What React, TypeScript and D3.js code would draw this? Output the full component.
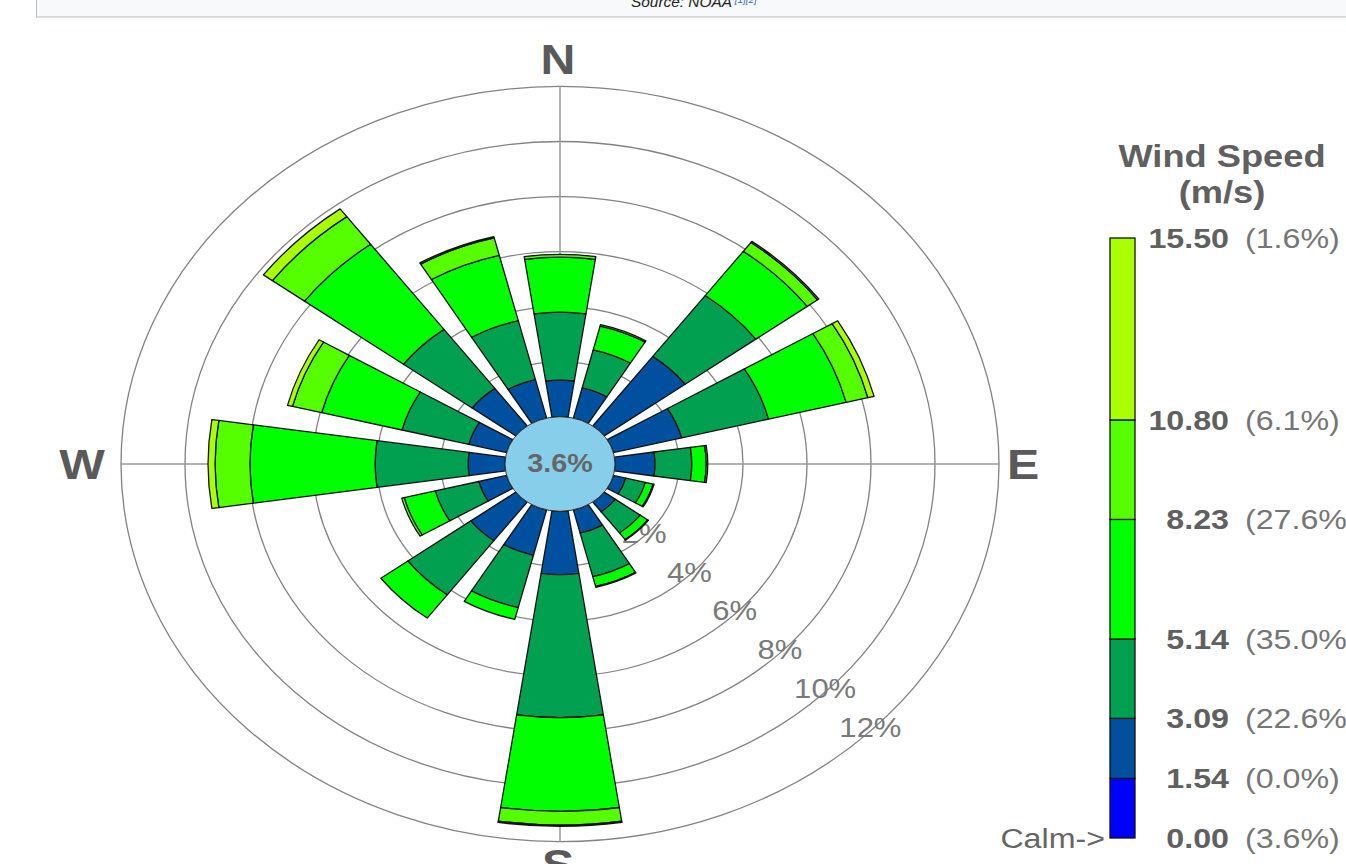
import React from "react";
import * as d3 from "d3";

// wind rose, NOAA data, values in % of time
const directions = ["N", "NNE", "NE", "ENE", "E", "ESE", "SE", "SSE", "S", "SSW", "SW", "WSW", "W", "WNW", "NW", "NNW"];

// frequency per speed bin and direction (%)
const bin154 = [1.33, 1.13, 3.15, 2.2, 1.25, 0.4, 0.44, 0.87, 2.3, 1.7, 1.75, 0.9, 1.15, 1.22, 1.7, 1.44];
const bin309 = [2.47, 1.43, 2.75, 2.8, 1.15, 0.63, 0.96, 1.63, 5.2, 1.96, 2.45, 1.4, 2.91, 2.15, 2.67, 2.21];
const bin514 = [2.0, 0.89, 2.0, 2.5, 0.45, 0.25, 0.3, 0.37, 3.4, 0.44, 1.05, 1.0, 3.91, 2.59, 3.85, 2.45];
const bin823 = [0.1, 0.05, 0.4, 0.7, 0.05, 0.03, 0.02, 0.03, 0.5, 0, 0, 0.08, 1.09, 0.94, 1.25, 0.65];
const bin1080 = [0, 0, 0.05, 0.2, 0, 0, 0, 0, 0.05, 0, 0, 0, 0.22, 0.16, 0.35, 0.05];
const bins = [bin154, bin309, bin514, bin823, bin1080];

const speedBreaks = [0, 1.54, 3.09, 5.14, 8.23, 10.8, 15.5];
const speedLabels = ["0.00", "1.54", "3.09", "5.14", "8.23", "10.80", "15.50"];
const speedShares = ["(3.6%)", "(0.0%)", "(22.6%)", "(35.0%)", "(27.6%)", "(6.1%)", "(1.6%)"];
const speedColors = ["#0000ff", "#0050a0", "#00a050", "#00ff00", "#55ff00", "#aaff00"];
const calmLabel = "3.6%";

const ringTicks = [2, 4, 6, 8, 10, 12];

const CX = 560;
const CY = 464;
const YS = 0.86; // the rose is squashed vertically
const TXT = 1.15; // text is stretched horizontally

function SText({ x, y, sx = TXT, children, ...rest }: any) {
  return (
    <text transform={`translate(${x},${y}) scale(${sx},1)`} {...rest}>
      {children}
    </text>
  );
}

export default function App() {
  const r = d3.scaleLinear().domain([0, 12]).range([55, 439]);
  const half = (8.45 * Math.PI) / 180;
  const arc = d3.arc<any>();

  const segments: any[] = [];
  directions.forEach((d, i) => {
    const a = (i * 22.5 * Math.PI) / 180;
    let cum = 0;
    bins.forEach((b, k) => {
      const v = b[i];
      if (v <= 0) return;
      segments.push({
        key: d + k,
        color: speedColors[k + 1],
        path: arc({
          innerRadius: r(cum),
          outerRadius: r(cum + v),
          startAngle: a - half,
          endAngle: a + half,
        }),
      });
      cum += v;
    });
  });

  const legendY = d3.scaleLinear().domain([0, 15.5]).range([838, 238]);
  const font = "'Liberation Sans', Arial, sans-serif";

  return (
    <div style={{ position: "absolute", left: 0, top: 0 }}>
      <svg width={1346} height={864} style={{ display: "block", fontFamily: font }}>
        <rect width={1346} height={864} fill="#fff" />

        {/* caption box cut at the top */}
        <rect x={36.5} y={-20} width={1400} height={37} fill="#f8f9fa" stroke="#b8bcc1" />
        <SText x={631} y={7} sx={1.1} fontSize={14} fontStyle="italic" fill="#202122">
          Source: NOAA
          <tspan fontSize={9} dy={-4} fill="#3366cc"> [1][2]</tspan>
        </SText>

        {/* grid */}
        <g transform={`translate(${CX},${CY}) scale(1,${YS})`}>
          {ringTicks.map((t) => (
            <ellipse key={t} rx={r(t)} ry={r(t)} fill="none" stroke="#828282" strokeWidth={1.3} vectorEffect="non-scaling-stroke" />
          ))}
          <line x1={0} y1={-r(12)} x2={0} y2={r(12)} stroke="#999" strokeWidth={1.5} vectorEffect="non-scaling-stroke" />
          <line x1={-r(12)} y1={0} x2={r(12)} y2={0} stroke="#999" strokeWidth={1.5} vectorEffect="non-scaling-stroke" />
        </g>

        {/* ring labels along SE */}
        {ringTicks.map((t) => (
          <SText
            key={t}
            x={CX + r(t) * Math.SQRT1_2}
            y={CY + YS * r(t) * Math.SQRT1_2 - 3}
            textAnchor="middle"
            dominantBaseline="central"
            fontSize={27}
            fill="#7a7a7a"
          >
            {t}%
          </SText>
        ))}

        {/* bars */}
        <g transform={`translate(${CX},${CY}) scale(1,${YS})`}>
          {segments.map((s) => (
            <path key={s.key} d={s.path} fill={s.color} stroke="#111" strokeWidth={1.3} strokeLinejoin="round" vectorEffect="non-scaling-stroke" />
          ))}
          <ellipse rx={r(0)} ry={r(0)} fill="#87ceeb" stroke="#333" strokeWidth={1} vectorEffect="non-scaling-stroke" />
        </g>
        <SText x={CX} y={CY} textAnchor="middle" dominantBaseline="central" fontSize={25} fontWeight="bold" fill="#666">
          {calmLabel}
        </SText>

        {/* compass */}
        <SText x={558} y={74} textAnchor="middle" fontSize={42} fontWeight="bold" fill="#5a5a5a">N</SText>
        <SText x={82} y={479} textAnchor="middle" fontSize={42} fontWeight="bold" fill="#5a5a5a">W</SText>
        <SText x={1023} y={479} textAnchor="middle" fontSize={42} fontWeight="bold" fill="#5a5a5a">E</SText>
        <SText x={558} y={879} textAnchor="middle" fontSize={42} fontWeight="bold" fill="#5a5a5a">S</SText>

        {/* legend */}
        <SText x={1222} y={167} sx={1.17} textAnchor="middle" fontSize={31} fontWeight="bold" fill="#606060">Wind Speed</SText>
        <SText x={1222} y={203} sx={1.17} textAnchor="middle" fontSize={31} fontWeight="bold" fill="#606060">(m/s)</SText>
        {speedColors.map((c, k) => (
          <rect
            key={c}
            x={1110}
            y={legendY(speedBreaks[k + 1])}
            width={25}
            height={legendY(speedBreaks[k]) - legendY(speedBreaks[k + 1])}
            fill={c}
            stroke="#111"
            strokeWidth={1.3}
          />
        ))}
        {speedBreaks.map((b, k) => (
          <g key={b}>
            <SText x={1229} y={legendY(b)} textAnchor="end" dominantBaseline="central" fontSize={28} fontWeight="bold" fill="#606060">
              {speedLabels[k]}
            </SText>
            <SText x={1245} y={legendY(b)} dominantBaseline="central" fontSize={28} fill="#767676">
              {speedShares[k]}
            </SText>
          </g>
        ))}
        <SText x={1105} y={legendY(0)} textAnchor="end" dominantBaseline="central" fontSize={28} fill="#666">
          Calm-&gt;
        </SText>
      </svg>
    </div>
  );
}
